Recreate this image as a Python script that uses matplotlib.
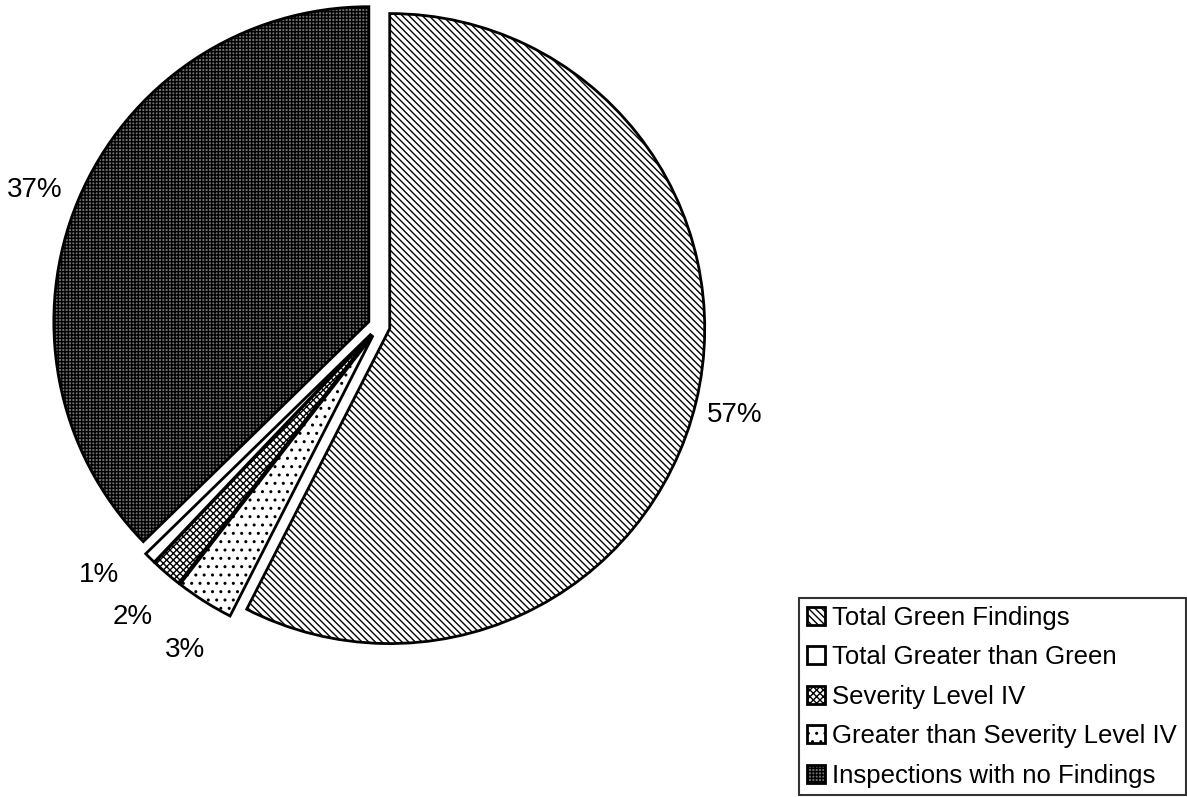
import matplotlib.pyplot as plt
import numpy as np

plt.rcParams['font.family'] = ['Liberation Sans', 'DejaVu Sans']

# slices, clockwise from 12 o'clock
names = ['Total Green Findings', 'Greater than Severity Level IV', 'Severity Level IV',
         'Total Greater than Green', 'Inspections with no Findings']
values = [57.5, 3.0, 1.6, 0.6, 37.3]
pct_labels = ['57%', '3%', '2%', '1%', '37%']
legend_order = ['Total Green Findings', 'Total Greater than Green', 'Severity Level IV',
                'Greater than Severity Level IV', 'Inspections with no Findings']

faces = ['white', 'white', 'white', 'white', '#727272']
hatches = ['\\\\\\\\\\', '..', 'xxxxx', '', '+++++']
# label placement: angle nudge (deg) and distance from centre
lab_nudge = [-0.5, 1.5, 0.5, -3.7, 1.3]
lab_dist = [1.165, 1.2, 1.21, 1.19, 1.175]

fig = plt.figure(figsize=(11.87, 7.97), dpi=100)
ax = fig.add_axes([1 / 1187, 93 / 797, 756 / 1187, 756 / 797])

wedges, _ = ax.pie(values, startangle=90, counterclock=False, radius=1.0,
                   explode=[0.035] * 5, colors=faces,
                   wedgeprops=dict(edgecolor='black', linewidth=2))
for w, h in zip(wedges, hatches):
    w.set_hatch(h)

# percent labels placed around each wedge's mid angle
for w, t, dn, d in zip(wedges, pct_labels, lab_nudge, lab_dist):
    a = np.deg2rad((w.theta1 + w.theta2) / 2 + dn)
    ax.text(d * np.cos(a), d * np.sin(a), t, fontsize=20,
            ha='center', va='center')

ax.set_xlim(-1.2, 1.2)
ax.set_ylim(-1.2, 1.2)
ax.set_aspect('equal')
ax.axis('off')

handles = [wedges[names.index(n)] for n in legend_order]
leg = fig.legend(handles, legend_order, loc='lower left',
                 bbox_to_anchor=(0.673, 0.002, 0.326, 0.254), mode='expand',
                 fontsize=18.5, frameon=True, fancybox=False, edgecolor='black',
                 handlelength=0.7, handleheight=0.7, handletextpad=0.3,
                 labelspacing=0.6, borderpad=0.3, borderaxespad=0)
leg.get_frame().set_linewidth(1.5)

fig.savefig('out.png', dpi=100)
